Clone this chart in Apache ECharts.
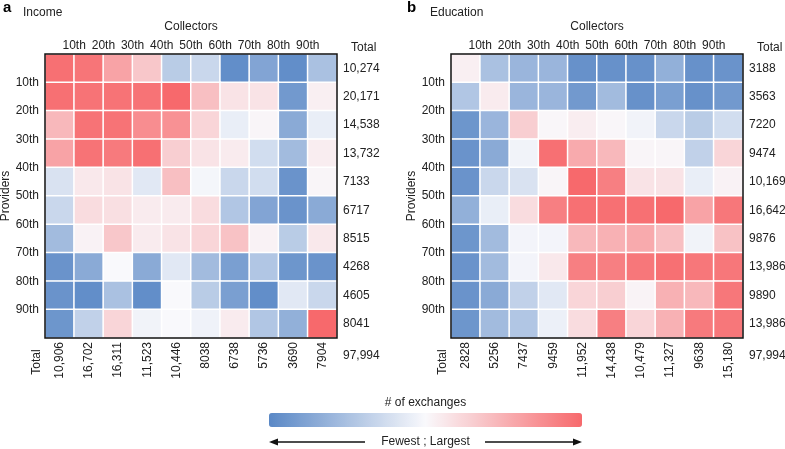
<!DOCTYPE html>
<html>
<head>
<meta charset="utf-8">
<script src="https://cdn.jsdelivr.net/npm/echarts@6/dist/echarts.min.js"></script>
<style>
  html, body { margin: 0; padding: 0; background: #fff; }
  #chart { width: 785px; height: 449px; }
</style>
</head>
<body>
<div id="chart"></div>
<script>
// deciles, 10 cells per axis, labels sit on the cell boundaries
const decileLabels = ['10th', '20th', '30th', '40th', '50th', '60th', '70th', '80th', '90th']
const cells = ['1', '2', '3', '4', '5', '6', '7', '8', '9', '10']

const incomeCells = [
  [1950, 1920, 1600, 1350, 600, 700, 50, 250, 50, 500],
  [1950, 1930, 1930, 1930, 2000, 1400, 1150, 1150, 150, 1070],
  [1450, 1930, 1930, 1750, 1720, 1250, 900, 1030, 300, 900],
  [1600, 1930, 1880, 1950, 1300, 1150, 1100, 750, 450, 1080],
  [800, 1120, 1150, 850, 1400, 970, 700, 750, 100, 1030],
  [700, 1200, 1180, 1100, 1100, 1200, 550, 250, 100, 300],
  [450, 1050, 1350, 1100, 1150, 1250, 1380, 1050, 600, 1120],
  [100, 300, 1000, 300, 850, 450, 200, 550, 120, 100],
  [100, 50, 500, 50, 1000, 600, 200, 50, 850, 700],
  [120, 650, 1250, 950, 1000, 940, 1100, 550, 350, 2000]
]
const educationCells = [
  [1070, 500, 400, 400, 80, 80, 80, 350, 80, 100],
  [550, 1100, 400, 400, 150, 450, 80, 200, 80, 150],
  [120, 400, 1300, 1020, 1080, 1020, 950, 700, 600, 750],
  [100, 300, 950, 1950, 1550, 1450, 1030, 1030, 650, 1250],
  [100, 700, 800, 1030, 2000, 1850, 1150, 1150, 900, 1050],
  [350, 900, 1200, 1850, 1950, 1950, 1950, 2000, 1600, 1900],
  [120, 450, 960, 960, 1450, 1500, 1550, 1400, 950, 1380],
  [100, 450, 960, 1120, 1850, 1850, 1900, 1950, 1900, 1900],
  [100, 300, 650, 850, 1250, 1300, 1040, 1500, 1450, 1900],
  [120, 450, 550, 920, 1200, 1850, 1250, 1500, 1880, 1900]
]

const incomeRowTotals = [10274, 20171, 14538, 13732, 7133, 6717, 8515, 4268, 4605, 8041]
const incomeColTotals = [10906, 16702, 16311, 11523, 10446, 8038, 6738, 5736, 3690, 7904]
const educationRowTotals = [3188, 3563, 7220, 9474, 10169, 16642, 9876, 13986, 9890, 13986]
const educationColTotals = [2828, 5256, 7437, 9459, 11952, 14438, 10479, 11327, 9638, 15180]
const grandTotal = 97994

const FONT = "'Liberation Sans', Arial, Helvetica, sans-serif"
const INK = '#222'

const fmt = n => n >= 10000 ? n.toLocaleString('en-US') : String(n)

const toData = m => {
  const out = []
  m.forEach((row, r) => row.forEach((v, c) => out.push([c, r, v])))
  return out
}

const panels = [
  { left: 45, title: 'Income', letter: 'a', rows: incomeRowTotals, cols: incomeColTotals, cells: incomeCells },
  { left: 451, title: 'Education', letter: 'b', rows: educationRowTotals, cols: educationColTotals, cells: educationCells }
]
const gridTop = 54
const gridW = 292
const gridH = 284

const grid = []
const xAxis = []
const yAxis = []
const series = []
const graphic = []

const txt = (text, x, y, extra) => Object.assign({
  type: 'text', x, y,
  style: { text, font: `12px ${FONT}`, fill: INK, textAlign: 'left', textVerticalAlign: 'middle' }
}, extra || {})

panels.forEach((p, i) => {
  grid.push({
    left: p.left, top: gridTop, width: gridW, height: gridH,
    outerBoundsMode: 'none', containLabel: false,
    show: true, z: 10, borderColor: '#111', borderWidth: 1.5, backgroundColor: 'transparent'
  })
  // bottom: column totals
  xAxis.push({
    type: 'category', gridIndex: i, data: cells, position: 'bottom',
    axisLine: { show: false }, axisTick: { show: false }, splitLine: { show: false },
    axisLabel: {
      rotate: 90, margin: 4, color: INK, fontFamily: FONT, fontSize: 12,
      formatter: (v, idx) => fmt(p.cols[idx])
    }
  })
  // top: decile boundaries
  xAxis.push({
    type: 'value', gridIndex: i, min: 0, max: 10, interval: 1, position: 'top',
    name: 'Collectors', nameLocation: 'middle', nameGap: 21,
    nameTextStyle: { color: INK, fontFamily: FONT, fontSize: 12 },
    axisLine: { show: false }, axisTick: { show: false }, splitLine: { show: false },
    axisLabel: {
      margin: 2, color: INK, fontFamily: FONT, fontSize: 12, showMinLabel: true, showMaxLabel: true,
      formatter: v => (v >= 1 && v <= 9) ? decileLabels[v - 1] : ''
    }
  })
  // right: row totals
  yAxis.push({
    type: 'category', gridIndex: i, data: cells, position: 'right', inverse: true,
    axisLine: { show: false }, axisTick: { show: false }, splitLine: { show: false },
    axisLabel: {
      margin: 6, color: INK, fontFamily: FONT, fontSize: 12,
      formatter: (v, idx) => fmt(p.rows[idx])
    }
  })
  // left: decile boundaries
  yAxis.push({
    type: 'value', gridIndex: i, min: 0, max: 10, interval: 1, position: 'left', inverse: true,
    name: 'Providers', nameLocation: 'middle', nameGap: 33,
    nameTextStyle: { color: INK, fontFamily: FONT, fontSize: 12 },
    axisLine: { show: false }, axisTick: { show: false }, splitLine: { show: false },
    axisLabel: {
      margin: 6, color: INK, fontFamily: FONT, fontSize: 12,
      formatter: v => (v >= 1 && v <= 9) ? decileLabels[v - 1] : ''
    }
  })
  series.push({
    type: 'heatmap', xAxisIndex: i * 2, yAxisIndex: i * 2,
    data: toData(p.cells),
    itemStyle: { borderColor: '#fff', borderWidth: 1.5 },
    emphasis: { disabled: true }
  })

  const right = p.left + gridW
  graphic.push(txt(p.letter, i ? 407 : 3, 8, {
    style: { text: p.letter, font: `bold 15px ${FONT}`, fill: '#000', textAlign: 'left', textVerticalAlign: 'middle' }
  }))
  graphic.push(txt(p.title, i ? 430 : 23, 13))
  graphic.push(txt('Total', right + 14, 48))
  graphic.push(txt(fmt(grandTotal), right + 6, 356))
  graphic.push(txt('Total', p.left - 8, 362, {
    rotation: Math.PI / 2,
    style: { text: 'Total', font: `12px ${FONT}`, fill: INK, textAlign: 'center', textVerticalAlign: 'middle' }
  }))
})

// colour bar caption and arrows
const barLeft = 269
const barRight = 582
const barMid = (barLeft + barRight) / 2
graphic.push(txt('# of exchanges', barMid, 403, {
  style: { text: '# of exchanges', font: `12px ${FONT}`, fill: INK, textAlign: 'center', textVerticalAlign: 'middle' }
}))
graphic.push(txt('Fewest ; Largest', barMid, 442, {
  style: { text: 'Fewest ; Largest', font: `12px ${FONT}`, fill: INK, textAlign: 'center', textVerticalAlign: 'middle' }
}))
graphic.push({ type: 'line', shape: { x1: barLeft + 6, y1: 442, x2: 365, y2: 442 }, style: { stroke: '#111', lineWidth: 1.5 } })
graphic.push({ type: 'line', shape: { x1: 485, y1: 442, x2: barRight - 6, y2: 442 }, style: { stroke: '#111', lineWidth: 1.5 } })
graphic.push({ type: 'polygon', shape: { points: [[barLeft, 442], [barLeft + 9, 438.5], [barLeft + 9, 445.5]] }, style: { fill: '#111' } })
graphic.push({ type: 'polygon', shape: { points: [[barRight, 442], [barRight - 9, 438.5], [barRight - 9, 445.5]] }, style: { fill: '#111' } })

const option = {
  backgroundColor: '#fff',
  animation: false,
  grid,
  xAxis,
  yAxis,
  visualMap: {
    type: 'continuous',
    min: 0,
    max: 2000,
    seriesIndex: [0, 1],
    orient: 'horizontal',
    left: barLeft,
    top: 413,
    padding: 0,
    itemWidth: 14,
    itemHeight: barRight - barLeft,
    calculable: false,
    hoverLink: false,
    text: null,
    inRange: { color: ['#5A88C6', '#F9F9FC', '#F7696C'] }
  },
  series,
  graphic
}

const chart = echarts.init(document.getElementById('chart'))
chart.setOption(option)
</script>
</body>
</html>
